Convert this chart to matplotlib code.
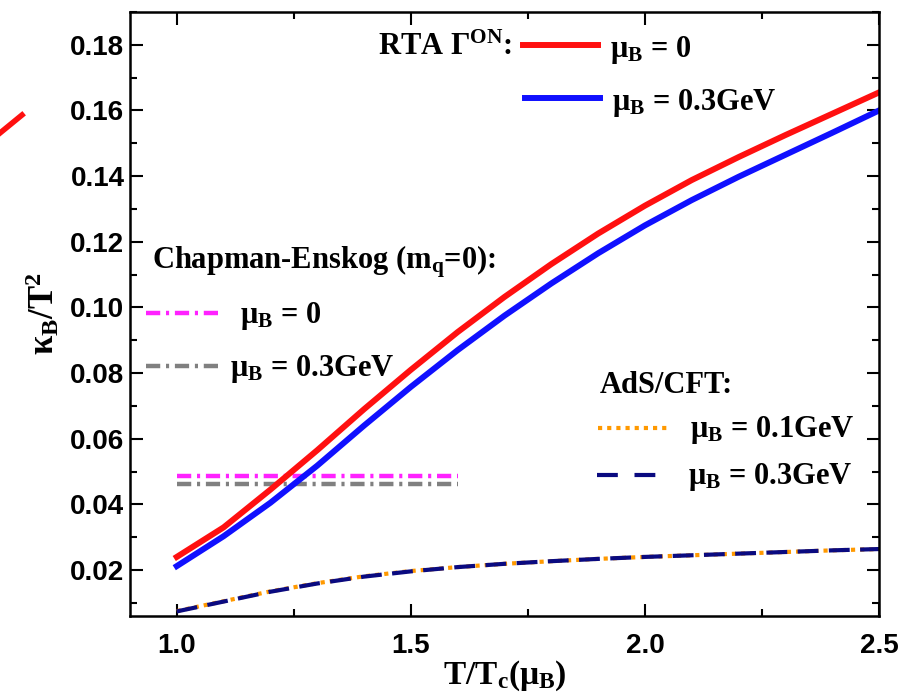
import numpy as np
import matplotlib
matplotlib.use("Agg")
import matplotlib.pyplot as plt
from matplotlib.lines import Line2D
from matplotlib.ticker import MultipleLocator

plt.rcParams['mathtext.default'] = 'regular'

# T/Tc grid
T = [1.0, 1.1, 1.2, 1.3, 1.4, 1.5, 1.6, 1.7, 1.8, 1.9, 2.0, 2.1, 2.2, 2.3, 2.4, 2.5]
# RTA Gamma^ON
rta_mu0 = [0.024, 0.033, 0.0445, 0.0565, 0.069, 0.081, 0.0925, 0.1032, 0.1132, 0.1225,
           0.131, 0.1388, 0.1458, 0.1525, 0.159, 0.1655]
rta_mu03 = [0.0212, 0.0303, 0.0405, 0.0518, 0.064, 0.0758, 0.087, 0.0975, 0.1073, 0.1165,
            0.125, 0.1327, 0.1398, 0.1465, 0.1532, 0.160]
# AdS/CFT
ads_mu01 = [0.0075, 0.0105, 0.0135, 0.016, 0.0181, 0.0197, 0.0209, 0.0219, 0.0227, 0.0234,
            0.024, 0.0245, 0.025, 0.0255, 0.026, 0.0264]
ads_mu03 = [0.0074, 0.0104, 0.0134, 0.0159, 0.018, 0.0196, 0.0209, 0.0219, 0.0227, 0.0234,
            0.024, 0.0245, 0.025, 0.0255, 0.026, 0.0264]
# Chapman-Enskog (constant)
ce_T = [1.0, 1.6]
ce_mu0 = [0.0486, 0.0486]
ce_mu03 = [0.0462, 0.0462]

fig = plt.figure(figsize=(9, 6.97), dpi=100)
ax = fig.add_axes([0.1444, 0.1162, 0.8323, 0.8666])

serif = 'Liberation Serif'
sans = 'Liberation Sans'
ce_dash = (3.2, 1.3, 0.7, 1.3)
ads_dash = (5, 2.5)
dot_dash = (1, 1.2)

ax.plot(ce_T, ce_mu0, color='#ff22ff', lw=3.2, dashes=ce_dash)
ax.plot(ce_T, ce_mu03, color='#808080', lw=3.2, dashes=ce_dash)
ax.plot(T, rta_mu0, color='#ff1010', lw=4.3)
ax.plot(T, rta_mu03, color='#1010ff', lw=4.3)
ax.plot(T, ads_mu01, color='#ff9900', lw=3, dashes=dot_dash)
ax.plot(T, ads_mu03, color='#0a0a80', lw=3, dashes=ads_dash)

ax.set_xlim(0.9, 2.5)
ax.set_ylim(0.006, 0.19)
ax.xaxis.set_minor_locator(MultipleLocator(0.25))
ax.yaxis.set_minor_locator(MultipleLocator(0.01))
ax.set_xticks([1.0, 1.5, 2.0, 2.5])
ax.set_xticklabels(['1.0', '1.5', '2.0', '2.5'])
ax.set_yticks([0.02, 0.04, 0.06, 0.08, 0.10, 0.12, 0.14, 0.16, 0.18])
ax.set_yticklabels(['0.02', '0.04', '0.06', '0.08', '0.10', '0.12', '0.14', '0.16', '0.18'])
ax.tick_params(which='both', direction='in', top=True, right=True, width=1.5)
ax.tick_params(which='major', length=9)
ax.tick_params(which='minor', length=5)
ax.tick_params(axis='x', pad=12)
ax.tick_params(axis='y', pad=4)
for lab in ax.get_xticklabels() + ax.get_yticklabels():
    lab.set_fontfamily(sans)
    lab.set_fontweight('bold')
    lab.set_fontsize(20)
for s in ax.spines.values():
    s.set_linewidth(1.8)

ax.set_xlabel('T/T$_c$($μ_B$)', fontfamily=serif, fontweight='bold', fontsize=24, labelpad=0)
ax.set_ylabel('κ$_B$/T$^2$', fontfamily=serif, fontweight='bold', fontsize=25, labelpad=6)

tkw = dict(fontfamily=serif, fontweight='bold', fontsize=22, va='center', transform=ax.transAxes)

def fx(px):
    return (px - 130) / 749.0

def fy(py):
    return (616 - py) / 604.0

# RTA legend
ax.text(fx(378), fy(47), 'RTA Γ$^{ON}$:', **tkw)
ax.add_line(Line2D([fx(523), fx(598)], [fy(45), fy(45)], color='#ff1010', lw=4.3, transform=ax.transAxes))
ax.text(fx(610), fy(50), 'μ$_B$ = 0', **tkw)
ax.add_line(Line2D([fx(525), fx(600)], [fy(98), fy(98)], color='#1010ff', lw=4.3, transform=ax.transAxes))
ax.text(fx(612), fy(103), 'μ$_B$ = 0.3GeV', **tkw)

# Chapman-Enskog legend
ax.text(fx(152), fy(262), 'Chapman-Enskog (m$_q$=0):', **tkw)
ax.add_line(Line2D([fx(146), fx(222)], [fy(313), fy(313)], color='#ff22ff', lw=3.2,
                   dashes=ce_dash, transform=ax.transAxes))
ax.text(fx(240), fy(316), 'μ$_B$ = 0', **tkw)
ax.add_line(Line2D([fx(146), fx(222)], [fy(366), fy(366)], color='#808080', lw=3.2,
                   dashes=ce_dash, transform=ax.transAxes))
ax.text(fx(230), fy(369), 'μ$_B$ = 0.3GeV', **tkw)

# AdS/CFT legend
ax.text(fx(600), fy(385), 'AdS/CFT:', **tkw)
ax.add_line(Line2D([fx(598), fx(667)], [fy(428), fy(428)], color='#ff9900', lw=3,
                   dashes=dot_dash, transform=ax.transAxes))
ax.text(fx(690), fy(430), 'μ$_B$ = 0.1GeV', **tkw)
ax.add_line(Line2D([fx(597), fx(657)], [fy(475), fy(475)], color='#0a0a80', lw=3,
                   dashes=(5, 4), transform=ax.transAxes))
ax.text(fx(688), fy(477), 'μ$_B$ = 0.3GeV', **tkw)

# stray red stroke at the top-left edge of the figure
fig.add_artist(Line2D([0.0, 22 / 900], [1 - 133 / 697, 1 - 115 / 697], color='#ff1010', lw=4,
                      transform=fig.transFigure))

fig.savefig('out.png', dpi=100)
